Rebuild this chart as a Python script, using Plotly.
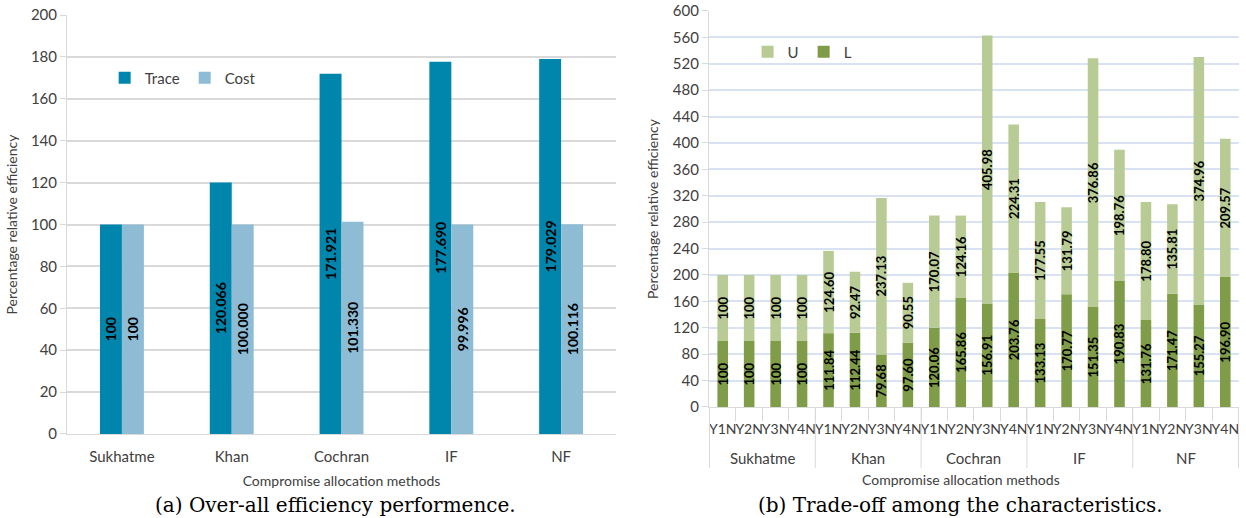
import plotly.graph_objects as go

# ---- data ----
methods = ["Sukhatme", "Khan", "Cochran", "IF", "NF"]
trace_eff = [100, 120.066, 171.921, 177.690, 179.029]
cost_eff = [100, 100.000, 101.330, 99.996, 100.116]

years = ["Y1N", "Y2N", "Y3N", "Y4N"]
lower_vals = [100, 100, 100, 100,
              111.84, 112.44, 79.68, 97.60,
              120.06, 165.86, 156.91, 203.76,
              133.13, 170.77, 151.35, 190.83,
              131.76, 171.47, 155.27, 196.90]
upper_vals = [100, 100, 100, 100,
              124.60, 92.47, 237.13, 90.55,
              170.07, 124.16, 405.98, 224.31,
              177.55, 131.79, 376.86, 198.76,
              178.80, 135.81, 374.96, 209.57]

FONT = "Lato"
SERIF = "DejaVu Serif"
TXT = "#404040"
AXIS_GREY = "#D9D9D9"


def fmt_a(values):
    return ["100" if i == 0 else f"{v:.3f}" for i, v in enumerate(values)]


def fmt_b(values):
    return ["100" if v == 100 else f"{v:.2f}" for v in values]


# one category per (method, year) pair; ticks show only the year part
pair_cats = [f"{m} {y}" for m in methods for y in years]
pair_ticks = [y for _ in methods for y in years]

fig = go.Figure()

text_a = dict(family=FONT, size=14, color="black", weight="bold")
text_b = dict(family=FONT, size=13, color="black", weight="bold")
common = dict(textposition="inside", textangle=-90, insidetextanchor="middle",
              constraintext="none")

# ---- panel (a): grouped bars ----
fig.add_trace(go.Bar(
    x=methods, y=trace_eff, name="Trace", marker_color="#0086AD",
    marker_line_width=0, text=fmt_a(trace_eff), insidetextfont=text_a,
    offsetgroup="trace", xaxis="x", yaxis="y", legend="legend", **common,
))
fig.add_trace(go.Bar(
    x=methods, y=cost_eff, name="Cost", marker_color="#8EBCD4",
    marker_line_width=0, text=fmt_a(cost_eff), insidetextfont=text_a,
    offsetgroup="cost", xaxis="x", yaxis="y", legend="legend", **common,
))

# ---- panel (b): U stacked on top of L ----
fig.add_trace(go.Bar(
    x=pair_cats, y=lower_vals, name="L", marker_color="#7F9C48",
    marker_line_width=0, text=fmt_b(lower_vals), insidetextfont=text_b,
    offsetgroup="b", xaxis="x2", yaxis="y2", legend="legend2", **common,
))
fig.add_trace(go.Bar(
    x=pair_cats, y=upper_vals, base=lower_vals, name="U",
    marker_color="#B8CB94", marker_line_width=0,
    text=fmt_b(upper_vals), insidetextfont=text_b,
    offsetgroup="b", xaxis="x2", yaxis="y2", legend="legend2", **common,
))

tick_font = dict(family=FONT, size=15, color=TXT)
title_font = dict(family=FONT, size=14, color=TXT)


def py(px):
    """paper y fraction from a pixel row measured from the top"""
    return 1 - px / 518


# group labels and dividers under panel (b)
n_sub = len(years)
group_annotations = [
    dict(text=m, x=i * n_sub + (n_sub - 1) / 2, y=py(458), xref="x2", yref="paper",
         xanchor="center", yanchor="middle", showarrow=False,
         font=dict(family=FONT, size=15, color=TXT))
    for i, m in enumerate(methods)
]
divider_shapes = [
    dict(type="line", xref="x2", yref="paper",
         x0=i * n_sub - 0.5, x1=i * n_sub - 0.5, y0=py(407), y1=py(468),
         line=dict(color=AXIS_GREY, width=1))
    for i in range(len(methods) + 1)
]

fig.update_layout(
    width=1246, height=518,
    margin=dict(l=0, r=0, t=0, b=0),
    paper_bgcolor="white", plot_bgcolor="white",
    barmode="group", bargap=0.6, bargroupgap=0,
    font=dict(family=FONT),
    xaxis=dict(
        domain=[0.0538, 0.4944], anchor="y",
        showline=True, linecolor=AXIS_GREY, linewidth=1,
        tickfont=tick_font, ticks="", ticklabelstandoff=9,
        title=dict(text="Compromise allocation methods", font=title_font, standoff=12),
        automargin=False,
    ),
    yaxis=dict(
        domain=[0.1622, 0.971], anchor="x",
        range=[0, 200], dtick=20,
        showgrid=True, gridcolor=AXIS_GREY, gridwidth=1.5,
        showline=True, linecolor=AXIS_GREY,
        zeroline=False, tickfont=tick_font, ticks="outside",
        ticklen=6, tickcolor=AXIS_GREY,
        title=dict(text="Percentage relative efficiency", font=title_font, standoff=10),
        automargin=False,
    ),
    xaxis2=dict(
        domain=[0.569, 0.9944], anchor="y2",
        type="category", categoryorder="array", categoryarray=pair_cats,
        tickmode="array", tickvals=pair_cats, ticktext=pair_ticks, tickangle=0,
        tickson="boundaries", ticks="outside", ticklen=13, tickcolor=AXIS_GREY,
        showline=True, linecolor=AXIS_GREY, linewidth=1, showgrid=False,
        tickfont=dict(family=FONT, size=14, color=TXT),
        ticklabelstandoff=9,
        automargin=False,
    ),
    yaxis2=dict(
        domain=[0.2143, 0.9788], anchor="x2",
        range=[0, 600], dtick=40,
        showgrid=True, gridcolor="#D9E2F3", gridwidth=1.5,
        showline=True, linecolor=AXIS_GREY,
        zeroline=False, tickfont=tick_font, ticks="outside",
        ticklen=6, tickcolor=AXIS_GREY,
        title=dict(text="Percentage relative efficiency", font=title_font, standoff=10),
        automargin=False,
    ),
    legend=dict(
        orientation="h", x=0.084, y=py(78), xanchor="left", yanchor="middle",
        font=dict(family=FONT, size=15, color=TXT),
        bgcolor="rgba(0,0,0,0)", itemwidth=30,
    ),
    legend2=dict(
        orientation="h", x=0.6, y=py(52), xanchor="left", yanchor="middle",
        font=dict(family=FONT, size=15, color=TXT),
        bgcolor="rgba(0,0,0,0)", traceorder="reversed", itemwidth=30,
    ),
    shapes=divider_shapes,
    annotations=group_annotations + [
        dict(text="Compromise allocation methods", x=961 / 1246, y=py(479),
             xref="paper", yref="paper", xanchor="center", yanchor="middle",
             showarrow=False, font=title_font),
        dict(text="(a) Over-all efficiency performence.", x=335 / 1246, y=py(505),
             xref="paper", yref="paper", xanchor="center", yanchor="middle",
             showarrow=False, font=dict(family=SERIF, size=20, color="black")),
        dict(text="(b) Trade-off among the characteristics.", x=960 / 1246, y=py(505),
             xref="paper", yref="paper", xanchor="center", yanchor="middle",
             showarrow=False, font=dict(family=SERIF, size=20, color="black")),
    ],
)

fig.write_html("out.html")
